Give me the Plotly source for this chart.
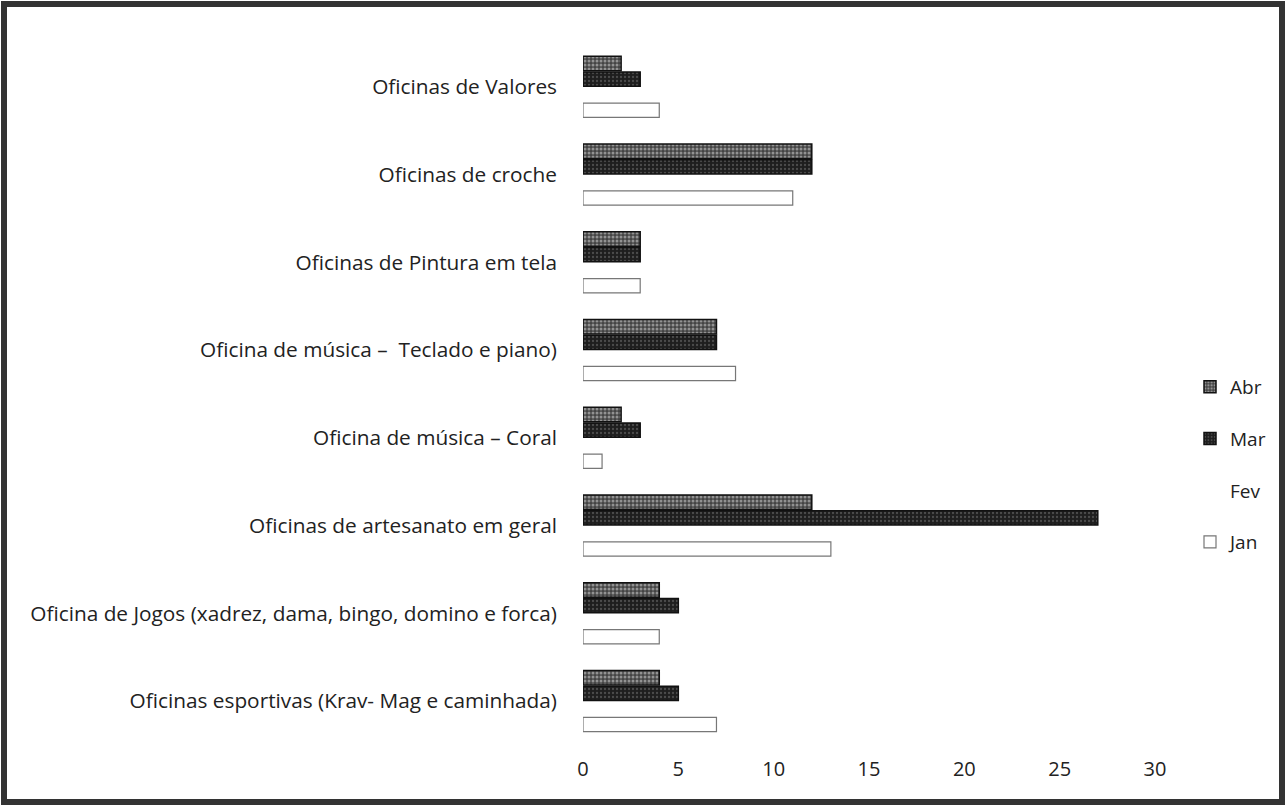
import plotly.graph_objects as go

categories = [
    "Oficinas esportivas (Krav- Mag e caminhada)",
    "Oficina de Jogos (xadrez, dama, bingo, domino e forca)",
    "Oficinas de artesanato em geral",
    "Oficina de música – Coral",
    "Oficina de música –  Teclado e piano)",
    "Oficinas de Pintura em tela",
    "Oficinas de croche",
    "Oficinas de Valores",
]
jan = [7, 4, 13, 1, 8, 3, 11, 4]
fev = [0, 0, 0, 0, 0, 0, 0, 0]
mar = [5, 5, 27, 3, 7, 3, 12, 3]
abr = [4, 4, 12, 2, 7, 3, 12, 2]
x_ticks = [0, 5, 10, 15, 20, 25, 30]

FONT = "Open Sans"
FS = 20.8

fig = go.Figure()
fig.add_trace(go.Bar(name="Jan", y=categories, x=jan, orientation="h", legendgroup="jan",
                     legendrank=4,
                     marker=dict(color="white", line=dict(color="#777777", width=1.2))))
fig.add_trace(go.Bar(name="Fev", y=categories, x=fev, orientation="h", legendgroup="fev",
                     legendrank=3,
                     marker=dict(color="white", line=dict(color="white", width=0))))
fig.add_trace(go.Bar(name="Mar", y=categories, x=mar, orientation="h", legendgroup="mar",
                     legendrank=2,
                     marker=dict(color="#1e1e1e", line=dict(color="#111111", width=1.5),
                                 pattern=dict(shape=".", fgcolor="#7a7a7a", size=4, solidity=0.25))))
fig.add_trace(go.Bar(name="Abr", y=categories, x=abr, orientation="h", legendgroup="abr",
                     legendrank=1,
                     marker=dict(color="#444444", line=dict(color="#111111", width=1.5),
                                 pattern=dict(shape=".", fgcolor="#e0e0e0", size=4, solidity=0.45))))

W, H = 1286, 806
ml, mr, mt, mb = 583, 131, 43, 61
pw, ph = W - ml - mr, H - mt - mb

def px_x(p):
    return (p - ml) / pw

def px_y(p):
    return (H - mb - p) / ph

fig.update_layout(
    width=W, height=H,
    margin=dict(l=ml, r=mr, t=mt, b=mb, autoexpand=False),
    paper_bgcolor="white", plot_bgcolor="white",
    barmode="group", bargap=0.29, bargroupgap=0.08,
    font=dict(family=FONT, size=FS, color="#222222"),
    showlegend=True,
    legend=dict(x=px_x(1190), y=px_y(368), xanchor="left", yanchor="top",
                traceorder="grouped", tracegroupgap=24,
                font=dict(family=FONT, size=19, color="#222222"),
                bgcolor="rgba(0,0,0,0)", itemwidth=30),
    xaxis=dict(range=[0, 30], tickvals=x_ticks, showgrid=False, zeroline=False,
               showline=False, ticks="", ticklabelstandoff=10, automargin=False,
               tickfont=dict(family=FONT, size=20, color="#222222")),
    yaxis=dict(showgrid=False, zeroline=False, showline=False, ticks="",
               ticklabelstandoff=25, automargin=False,
               tickfont=dict(family=FONT, size=FS, color="#222222")),
    shapes=[dict(type="rect", xref="paper", yref="paper",
                 x0=px_x(4), x1=px_x(1282), y0=px_y(802), y1=px_y(4),
                 line=dict(color="#333333", width=6), fillcolor="rgba(0,0,0,0)",
                 layer="above")],
)

fig.write_html("out.html", config={"displayModeBar": False},
               post_script="document.body.style.margin='0';document.body.style.overflow='hidden';")
